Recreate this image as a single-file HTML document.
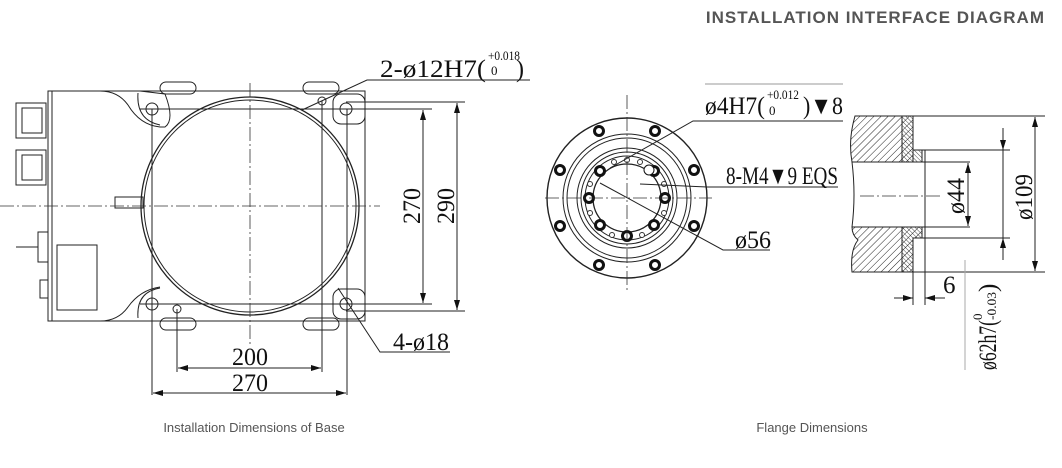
<!DOCTYPE html>
<html><head><meta charset="utf-8"><style>
body{margin:0;background:#fff;width:1062px;height:468px;overflow:hidden}
svg{display:block}
.t{font-family:"Liberation Serif",serif;fill:#111}
.c{font-family:"Liberation Sans",sans-serif;fill:#555;font-size:13px}
</style></head><body>
<svg width="1062" height="468" viewBox="0 0 1062 468">
<defs>
<marker id="a" markerWidth="10" markerHeight="6" refX="10" refY="3" orient="auto-start-reverse" markerUnits="userSpaceOnUse"><path d="M0,0 L10,3 L0,6z" fill="#111"/></marker>
<pattern id="h" width="5" height="5" patternUnits="userSpaceOnUse" patternTransform="rotate(45)"><line x1="0" y1="0" x2="0" y2="5" stroke="#222" stroke-width="1"/></pattern>
<pattern id="h2" width="3" height="3" patternUnits="userSpaceOnUse" patternTransform="rotate(-45)"><line x1="0" y1="0" x2="0" y2="3" stroke="#222" stroke-width="0.8"/></pattern>
</defs>
<text x="1045" y="23" text-anchor="end" style="font-family:'Liberation Sans',sans-serif;font-weight:bold;font-size:17px;fill:#555;letter-spacing:1px">INSTALLATION INTERFACE DIAGRAM</text>

<g fill="none" stroke="#222" stroke-width="1">
<path d="M48,91 L100,91 Q118,91 128,105 Q140,125 160,127 L165,127 Q175,120 165,94 L140,91" />
<rect x="48" y="91" width="4" height="230"/>
<path d="M52,91 H365 V321 H52"/>
<path d="M52,321 H100 Q118,321 128,307 Q140,290 160,287"/>
<path d="M138,93 Q136,120 160,125 M138,318 Q136,292 160,288"/>
<rect x="333" y="94" width="32" height="30" rx="8"/>
<rect x="333" y="289" width="32" height="30" rx="8"/>
<rect x="160" y="82" width="36" height="12" rx="6"/><rect x="303" y="82" width="36" height="12" rx="6"/>
<rect x="160" y="318" width="36" height="12" rx="6"/><rect x="303" y="318" width="36" height="12" rx="6"/>
<circle cx="250" cy="206" r="109" stroke-width="1.3"/><circle cx="250" cy="206" r="106"/>
<circle cx="152" cy="109" r="6"/><circle cx="346" cy="109" r="6"/><circle cx="152" cy="304" r="6"/><circle cx="346" cy="304" r="6"/>
<circle cx="322" cy="101" r="4"/><circle cx="177" cy="309" r="4"/>
<rect x="57" y="245" width="40" height="65"/>
<rect x="115" y="197" width="28" height="11"/>
<rect x="16" y="103" width="30" height="35"/><rect x="22" y="108" width="20" height="25"/>
<rect x="16" y="150" width="30" height="35"/><rect x="22" y="155" width="20" height="25"/>
<rect x="38" y="232" width="10" height="30"/><line x1="16" y1="247" x2="38" y2="247"/>
<rect x="40" y="280" width="8" height="18"/>
<line x1="152" y1="109" x2="152" y2="395"/><line x1="347" y1="109" x2="347" y2="395"/>
<line x1="177" y1="309" x2="177" y2="372"/><line x1="322" y1="101" x2="322" y2="372"/>
<line x1="140" y1="109" x2="432" y2="109"/><line x1="140" y1="304" x2="432" y2="304"/>
<line x1="346" y1="102" x2="465" y2="102"/><line x1="346" y1="311" x2="465" y2="311"/>
<line x1="423" y1="110" x2="423" y2="303" marker-start="url(#a)" marker-end="url(#a)"/>
<line x1="457" y1="103" x2="457" y2="310" marker-start="url(#a)" marker-end="url(#a)"/>
<line x1="178" y1="368" x2="321" y2="368" marker-start="url(#a)" marker-end="url(#a)"/>
<line x1="153" y1="393" x2="346" y2="393" marker-start="url(#a)" marker-end="url(#a)"/>
<polyline points="302,110 367,80 530,80"/>
<polyline points="338,288 380,352 450,352"/>
</g>
<g stroke="#333" stroke-width="0.8" stroke-dasharray="14,3,2,3" fill="none">
<line x1="0" y1="206" x2="380" y2="206"/><line x1="250" y1="83" x2="250" y2="345"/>
</g>
<g class="t">
<text x="380" y="77" font-size="25" textLength="106" lengthAdjust="spacingAndGlyphs">2-ø12H7(</text>
<text x="488" y="60" font-size="13" textLength="32" lengthAdjust="spacingAndGlyphs">+0.018</text><text x="491" y="75" font-size="13">0</text>
<text x="516" y="77" font-size="25" textLength="8" lengthAdjust="spacingAndGlyphs">)</text>
<text x="393" y="350" font-size="25" textLength="56" lengthAdjust="spacingAndGlyphs">4-ø18</text>
<text x="250" y="365" font-size="25" text-anchor="middle" textLength="36" lengthAdjust="spacingAndGlyphs">200</text>
<text x="250" y="391" font-size="25" text-anchor="middle" textLength="36" lengthAdjust="spacingAndGlyphs">270</text>
<text transform="translate(420,206) rotate(-90)" font-size="25" text-anchor="middle" textLength="36" lengthAdjust="spacingAndGlyphs">270</text>
<text transform="translate(454,206) rotate(-90)" font-size="25" text-anchor="middle" textLength="36" lengthAdjust="spacingAndGlyphs">290</text>
</g>

<g fill="none" stroke="#222" stroke-width="1">
<circle cx="627" cy="198" r="80" stroke-width="1.4"/>
<circle cx="627" cy="198" r="64"/><circle cx="627" cy="198" r="60"/>
<circle cx="627" cy="198" r="50"/><circle cx="627" cy="198" r="46"/><circle cx="627" cy="198" r="42"/>
<circle cx="627" cy="198" r="34" stroke-width="1.3"/>
</g>
<g fill="#fff" stroke="#111" stroke-width="3">
<circle cx="599" cy="131" r="4.5"/><circle cx="655" cy="131" r="4.5"/><circle cx="560" cy="170" r="4.5"/><circle cx="694" cy="170" r="4.5"/>
<circle cx="560" cy="226" r="4.5"/><circle cx="694" cy="226" r="4.5"/><circle cx="599" cy="265" r="4.5"/><circle cx="655" cy="265" r="4.5"/>
<circle cx="627" cy="236" r="4.5"/><circle cx="589" cy="198" r="4.5"/><circle cx="665" cy="198" r="4.5"/>
<circle cx="600" cy="171" r="4.5"/><circle cx="654" cy="171" r="4.5"/><circle cx="600" cy="225" r="4.5"/><circle cx="654" cy="225" r="4.5"/>
</g>
<circle cx="649" cy="170" r="5" fill="#fff" stroke="#111" stroke-width="1"/>
<g fill="#fff" stroke="#333" stroke-width="1">
<circle cx="627" cy="160" r="2.5"/>
<circle cx="614" cy="162" r="2.5"/><circle cx="640" cy="162" r="2.5"/><circle cx="590" cy="184" r="2.5"/><circle cx="664" cy="184" r="2.5"/>
<circle cx="590" cy="213" r="2.5"/><circle cx="664" cy="213" r="2.5"/><circle cx="612" cy="235" r="2.5"/><circle cx="642" cy="235" r="2.5"/>
</g>
<g stroke="#333" stroke-width="0.8" stroke-dasharray="14,3,2,3" fill="none">
<line x1="545" y1="198" x2="712" y2="198"/><line x1="627" y1="95" x2="627" y2="290"/>
</g>
<g fill="none" stroke="#222" stroke-width="1">
<polyline points="610,168 693,121 843,121"/>
<polyline points="640,184 707,187 838,187"/>
<polyline points="600,183 723,250 770,250"/>
<line x1="705" y1="84" x2="843" y2="84" stroke="#999"/>
</g>
<g class="t">
<text x="705" y="114" font-size="25" textLength="60" lengthAdjust="spacingAndGlyphs">ø4H7(</text>
<text x="767" y="99" font-size="13" textLength="32" lengthAdjust="spacingAndGlyphs">+0.012</text><text x="769" y="115" font-size="13">0</text>
<text x="803" y="114" font-size="25" textLength="40" lengthAdjust="spacingAndGlyphs">)▼8</text>
<text x="726" y="184" font-size="25" textLength="112" lengthAdjust="spacingAndGlyphs">8-M4▼9 EQS</text>
<text x="735" y="248" font-size="25" textLength="36" lengthAdjust="spacingAndGlyphs">ø56</text>
</g>

<g stroke="#222" stroke-width="1">
<path d="M855,116 H913 V162 H852 Q848,140 855,116Z" fill="url(#h)"/>
<path d="M902,116 H913 V150 H922 V162 H902Z" fill="url(#h2)"/>
<path d="M852,227 H922 V238 H913 V272 H852 Q850,250 858,240 Q852,235 852,227Z" fill="url(#h)"/>
<path d="M902,227 H922 V238 H913 V272 H902Z" fill="url(#h2)"/>
<path d="M852,162 Q856,195 852,227" fill="none"/>
</g>
<g fill="none" stroke="#222" stroke-width="1">
<line x1="913" y1="116" x2="1045" y2="116"/><line x1="913" y1="272" x2="1045" y2="272"/>
<line x1="922" y1="150" x2="1010" y2="150"/><line x1="922" y1="238" x2="1010" y2="238"/>
<line x1="922" y1="162" x2="970" y2="162"/><line x1="922" y1="227" x2="970" y2="227"/>
<line x1="1035" y1="117" x2="1035" y2="271" marker-start="url(#a)" marker-end="url(#a)"/>
<line x1="968" y1="163" x2="968" y2="226" marker-start="url(#a)" marker-end="url(#a)"/>
<line x1="1003" y1="128" x2="1003" y2="150" marker-end="url(#a)"/>
<line x1="1003" y1="260" x2="1003" y2="238" marker-end="url(#a)"/>
<line x1="1003" y1="150" x2="1003" y2="238"/>
<line x1="913" y1="272" x2="913" y2="305"/><line x1="925" y1="150" x2="925" y2="305"/>
<line x1="894" y1="298" x2="913" y2="298" marker-end="url(#a)"/>
<line x1="945" y1="298" x2="925" y2="298" marker-end="url(#a)"/>
<line x1="965" y1="260" x2="965" y2="370" stroke="#aaa"/>
</g>
<line x1="860" y1="196" x2="940" y2="196" stroke="#333" stroke-width="0.8" stroke-dasharray="14,3,2,3"/>
<g class="t">
<text transform="translate(964,196) rotate(-90)" font-size="25" text-anchor="middle" textLength="36" lengthAdjust="spacingAndGlyphs">ø44</text>
<text transform="translate(1032,197) rotate(-90)" font-size="25" text-anchor="middle" textLength="46" lengthAdjust="spacingAndGlyphs">ø109</text>
<text x="943" y="293" font-size="25">6</text>
<text transform="translate(996,370) rotate(-90)" font-size="25" textLength="50" lengthAdjust="spacingAndGlyphs">ø62h7(</text>
<text transform="translate(982,320) rotate(-90)" font-size="13">0</text>
<text transform="translate(996,320) rotate(-90)" font-size="13" textLength="28" lengthAdjust="spacingAndGlyphs">-0.03</text>
<text transform="translate(996,292) rotate(-90)" font-size="25">)</text>
</g>

<text class="c" x="254" y="432" text-anchor="middle">Installation Dimensions of Base</text>
<text class="c" x="812" y="432" text-anchor="middle">Flange Dimensions</text>
</svg>
</body></html>
